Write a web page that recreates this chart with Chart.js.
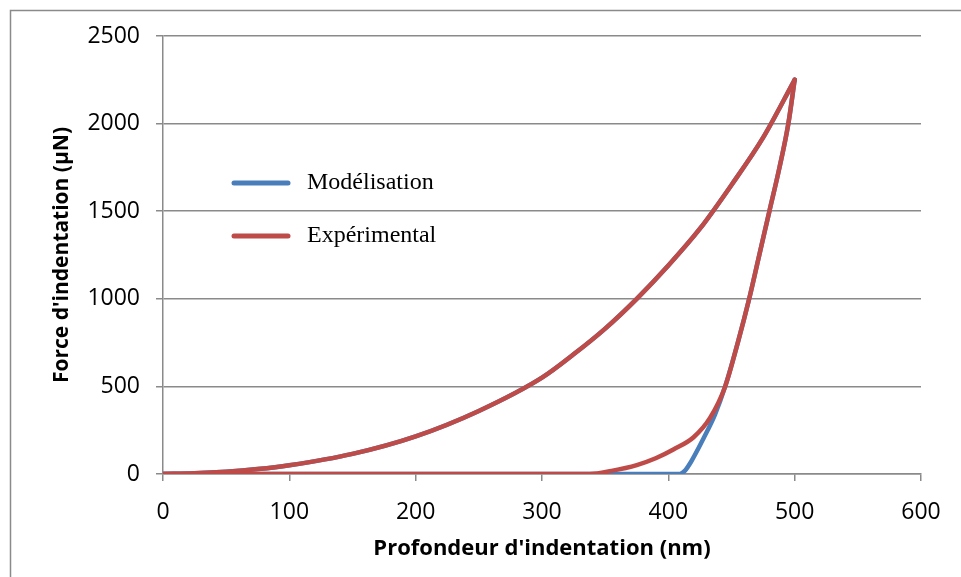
<!DOCTYPE html>
<html>
<head>
<meta charset="utf-8">
<script src="https://cdn.jsdelivr.net/npm/chart.js@4.4.1/dist/chart.umd.min.js"></script>
<style>
  html, body { margin: 0; padding: 0; background: #fff; }
  #wrap { width: 961px; height: 577px; }
</style>
</head>
<body>
<div id="wrap"><canvas id="chart" width="961" height="577"></canvas></div>
<script>
// Charge (commune aux deux courbes)
const loadDepth = [0, 25, 50, 75, 100, 150, 200, 250, 300, 325, 350, 375, 400, 425, 450, 475, 500];
const loadForce = [0, 4, 13, 28, 50, 115, 215, 360, 550, 683, 830, 1000, 1190, 1400, 1650, 1920, 2250];

// Décharge - expérimental
const expUnloadDepth = [0, 338, 355, 375, 390, 404, 420, 433, 445, 455, 464, 472, 480, 488, 495, 500];
const expUnloadForce = [0, 0, 18, 51, 90, 140, 210, 320, 500, 750, 1000, 1250, 1500, 1750, 2000, 2250];

// Décharge - modélisation
const modUnloadDepth = [0, 409, 413, 418, 428, 437, 445, 455, 464, 472, 480, 488, 495, 500];
const modUnloadForce = [0, 0, 18, 70, 205, 340, 500, 750, 1000, 1250, 1500, 1750, 2000, 2250];

const xTicks = [0, 100, 200, 300, 400, 500, 600];
const yTicks = [0, 500, 1000, 1500, 2000, 2500];

const seriesNames = ['Modélisation', 'Expérimental'];
const blue = '#4a7ebb';
const red = '#be4b48';
const gridCol = '#8a8a8a';

const pts = (xs, ys) => xs.map((x, i) => ({ x, y: ys[i] }));

function lineDs(label, data, color, order) {
  return {
    label, data, order,
    borderColor: color,
    backgroundColor: color,
    borderWidth: 4.5,
    pointRadius: 0,
    showLine: true,
    fill: false,
    cubicInterpolationMode: 'monotone',
    borderCapStyle: 'round',
    borderJoinStyle: 'round'
  };
}

//  Cadre + fond
const framePlugin = {
  id: 'frame',
  beforeDraw(chart) {
    const ctx = chart.ctx;
    ctx.save();
    ctx.fillStyle = '#fff';
    ctx.fillRect(0, 0, chart.width, chart.height);
    ctx.strokeStyle = '#8a8a8a';
    ctx.lineWidth = 1.5;
    ctx.beginPath();
    ctx.moveTo(10.5, chart.height + 5);
    ctx.lineTo(10.5, 10.5);
    ctx.lineTo(chart.width + 5, 10.5);
    ctx.stroke();
    ctx.restore();
  }
};

//  Légende dans la zone du graphique
const legendPlugin = {
  id: 'innerLegend',
  afterDatasetsDraw(chart) {
    const ctx = chart.ctx;
    const rows = [
      { name: seriesNames[0], color: blue, y: 183 },
      { name: seriesNames[1], color: red, y: 236 }
    ];
    ctx.save();
    rows.forEach(r => {
      ctx.strokeStyle = r.color;
      ctx.lineWidth = 5;
      ctx.lineCap = 'round';
      ctx.beginPath();
      ctx.moveTo(234, r.y);
      ctx.lineTo(288, r.y);
      ctx.stroke();
      ctx.fillStyle = '#000';
      ctx.font = '24px "Liberation Serif", "Times New Roman", serif';
      ctx.textBaseline = 'middle';
      ctx.fillText(r.name, 307, r.y);
    });
    ctx.restore();
  }
};

const tickFont = { family: '"Open Sans", sans-serif', size: 23 };
const plain = v => String(v);

new Chart(document.getElementById('chart'), {
  type: 'scatter',
  data: {
    datasets: [
      lineDs(seriesNames[1], pts(loadDepth, loadForce), red, 0),
      lineDs(seriesNames[1], pts(expUnloadDepth, expUnloadForce), red, 0),
      lineDs(seriesNames[0], pts(loadDepth, loadForce), blue, 1),
      lineDs(seriesNames[0], pts(modUnloadDepth, modUnloadForce), blue, 1)
    ]
  },
  options: {
    responsive: false,
    animation: false,
    layout: { padding: { top: 36, right: 40, left: 0, bottom: 0 } },
    plugins: {
      legend: { display: false },
      tooltip: { enabled: false }
    },
    scales: {
      x: {
        type: 'linear',
        min: 0, max: 600,
        afterBuildTicks: s => { s.ticks = xTicks.map(v => ({ value: v })); },
        afterFit: s => { s.height = 103; },
        grid: { drawOnChartArea: false, drawTicks: true, tickLength: 7, color: gridCol, lineWidth: 1.5 },
        border: { color: gridCol, width: 1.5 },
        ticks: { color: '#000', font: tickFont, padding: 18, maxRotation: 0, callback: plain },
        title: {
          display: true,
          text: "Profondeur d'indentation (nm)",
          color: '#000',
          font: { family: '"Open Sans", sans-serif', size: 22, weight: 'bold' },
          padding: { top: 0, bottom: 15 }
        }
      },
      y: {
        min: 0, max: 2500,
        afterBuildTicks: s => { s.ticks = yTicks.map(v => ({ value: v })); },
        afterFit: s => { s.width = 163; },
        grid: { color: gridCol, lineWidth: 1.5, tickLength: 7 },
        border: { color: gridCol, width: 1.5 },
        ticks: { color: '#000', font: tickFont, padding: 16, callback: plain },
        title: {
          display: true,
          text: "Force d'indentation (µN)",
          color: '#000',
          font: { family: '"Open Sans", sans-serif', size: 21, weight: 'bold' },
          padding: { top: 49, bottom: 0 }
        }
      }
    }
  },
  plugins: [framePlugin, legendPlugin]
});
</script>
</body>
</html>
